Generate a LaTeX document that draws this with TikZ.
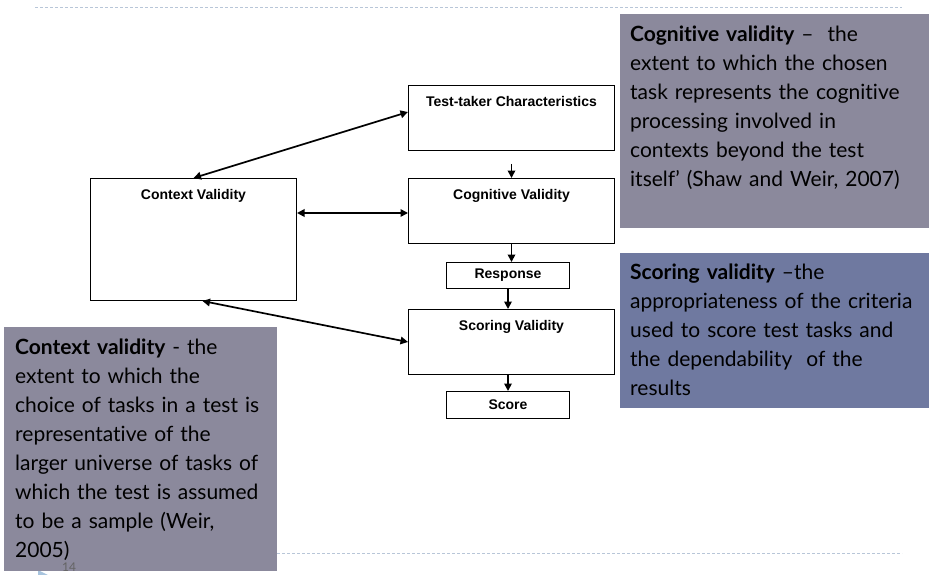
\documentclass[tikz,border=0pt]{standalone}
\usepackage{fontspec}
\setmainfont{Lato}[Ligatures=NoCommon]
\newfontfamily\boxfont{Liberation Sans}
\usetikzlibrary{arrows.meta}

\definecolor{cognitivegrey}{RGB}{139,137,156}
\definecolor{scoringblue}{RGB}{111,121,160}
\definecolor{ruleblue}{RGB}{184,198,216}
\definecolor{pagegrey}{RGB}{100,100,100}
\definecolor{markerblue}{RGB}{168,196,222}

\begin{document}
\begin{tikzpicture}[x=1pt,y=-1pt,
    box/.style={draw,line width=1pt,minimum width=206pt,anchor=north west,inner sep=0pt},
    smallbox/.style={box,minimum width=123pt,font=\boxfont\bfseries\fontsize{14}{16}\selectfont},
    boxlabel/.style={font=\boxfont\bfseries\fontsize{14}{16}\selectfont,anchor=north,yshift=-8pt},
    link/.style={line width=1.7pt,{Triangle[length=7.5pt,width=7.5pt]}-{Triangle[length=7.5pt,width=7.5pt]}},
    flow/.style={line width=1.7pt,-{Triangle[length=7.5pt,width=7.5pt]}},
    callout/.style={anchor=north west,align=left,inner xsep=10pt,text=black,
        font=\fontsize{21}{29}\selectfont},
    rule/.style={ruleblue,line width=0.8pt,dash pattern=on 3pt off 2pt}]

    \useasboundingbox (0,0) rectangle (929,575);

    % slide rules
    \draw[rule] (35,7) -- (902,7);
    \draw[rule] (277,553) -- (902,553);

    % page marker
    \fill[markerblue] (38,570) -- (52,577) -- (38,584) -- cycle;

    % the boxes of the model
    \node[box,minimum height=65pt,label={[boxlabel]north:Test-taker Characteristics}] (tc) at (408,85) {};
    \node[box,minimum height=65pt,label={[boxlabel]north:Cognitive Validity}] (cv) at (408,178) {};
    \node[box,minimum height=122pt,label={[boxlabel]north:Context Validity}] (ctx) at (90,178) {};
    \node[smallbox,minimum height=26pt] (resp) at (446,262) {Response};
    \node[box,minimum height=65pt,label={[boxlabel]north:Scoring Validity}] (sv) at (408,309) {};
    \node[smallbox,minimum height=27pt] (score) at (446,391) {Score};

    % connectors
    \draw[link] (ctx.north) -- ([yshift=6pt]tc.west);
    \draw[link] (ctx.east |- 0,213) -- (cv.west |- 0,213);
    \draw[link] ([xshift=9pt]ctx.south) -- (sv.west);
    \draw[flow,shorten <=13pt] (tc.south) -- (cv.north);
    \draw[flow] (cv.south) -- (cv.south |- resp.north);
    \draw[flow] (resp.south) -- (resp.south |- sv.north);
    \draw[flow] (sv.south -| score.north) -- (score.north);

    % callouts
    \node[callout,fill=cognitivegrey,text width=300pt,inner ysep=12pt,text depth=174pt] (cogcall) at (620,14)
        {\textbf{Cognitive validity} –\ \ the\\
         extent to which the chosen\\
         task represents the cognitive\\
         processing involved in\\
         contexts beyond the test\\
         itself’ (Shaw and Weir, 2007)};
    \node[callout,fill=scoringblue,text width=300pt,inner ysep=10.5pt,text depth=118pt] (scorecall) at (620,253)
        {\textbf{Scoring validity} –the\\
         appropriateness of the criteria\\
         used to score test tasks and\\
         the dependability\ \ of the\\
         results};
    \node[callout,fill=cognitivegrey,text width=251pt,inner xsep=11pt,inner ysep=11.5pt,text depth=205pt] (ctxcall) at (4,327)
        {\textbf{Context validity} - the\\
         extent to which the\\
         choice of tasks in a test is\\
         representative of the\\
         larger universe of tasks of\\
         which the test is assumed\\
         to be a sample (Weir,\\
         2005)};

    % page number
    \node[text=pagegrey,font=\fontsize{12}{12}\selectfont,anchor=north west,inner sep=0pt] (pagenum) at (62,563) {14};
\end{tikzpicture}
\end{document}
